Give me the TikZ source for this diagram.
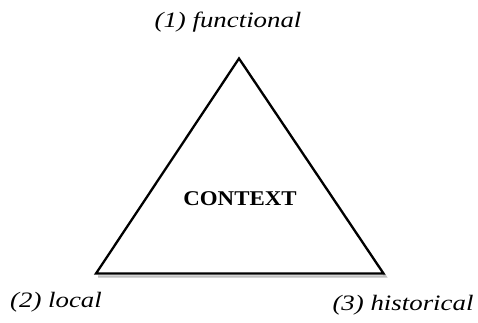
\documentclass[tikz,border=0pt]{standalone}
\usepackage{fontspec}
\setmainfont{Liberation Serif}
\begin{document}
\begin{tikzpicture}[x=1pt,y=-1pt,
  lbl/.style={font=\fontsize{22}{26}\selectfont\itshape, inner sep=0pt, xscale=1.22},
  tri/.style={draw=black, line width=2.3pt, line join=miter},
  shadowline/.style={draw=black!25, line width=2.3pt}]
\useasboundingbox (0,0) rectangle (478,322);
\coordinate (A) at (239,58.5);
\coordinate (B) at (96,273.5);
\coordinate (C) at (383.5,273.5);
\draw[shadowline] ([shift={(2,3)}]B) -- ([shift={(2,3)}]C) -- ([shift={(2,3)}]A);
\filldraw[tri, fill=white] (A) -- (B) -- (C) -- cycle;
\node[font=\fontsize{21}{25}\selectfont\bfseries, inner sep=0pt, xscale=1.09] (ctx) at (240,199) {CONTEXT};
\node[lbl] (f) at (228,22) {(1) functional};
\node[lbl] (l) at (56,302) {(2) local};
\node[lbl] (h) at (403,305) {(3) historical};
\end{tikzpicture}
\end{document}
